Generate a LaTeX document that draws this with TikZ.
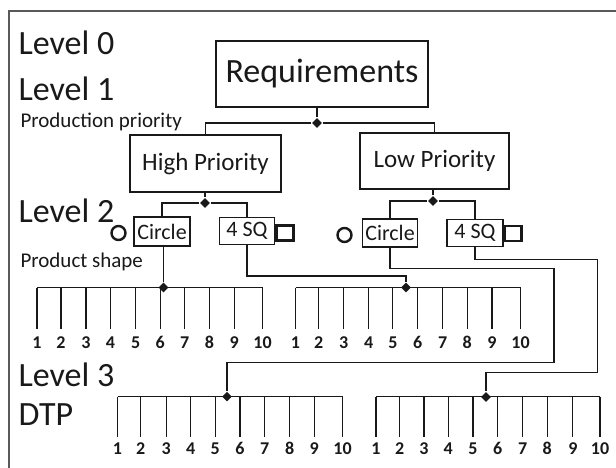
\documentclass[tikz,border=0pt]{standalone}
\usepackage{fontspec}
\setmainfont{Carlito}
\usetikzlibrary{shapes.geometric}
\begin{document}
\begin{tikzpicture}[x=1pt,y=-1pt,line width=1.1pt,color=black!90,
  lbl/.style={anchor=base west,inner sep=0pt,font=\fontsize{34}{40}\selectfont},
  small/.style={anchor=base west,inner sep=0pt,font=\fontsize{21}{25}\selectfont},
  box/.style={draw,rectangle,inner sep=0pt,line width=1.2pt},
  jdot/.style={diamond,fill,draw=none,inner sep=0pt,minimum size=10pt},
  num/.style={anchor=base,inner sep=0pt,font=\bfseries\fontsize{18}{21}\selectfont},
  sym/.style={draw,inner sep=0pt,line width=2.4pt}]
\useasboundingbox (0,0) rectangle (616,468);
% frame
\draw[line width=1.4pt,black!65] (9,468) -- (9,11) -- (616,11);
% level labels
\node[lbl] (l0) at (18,55) {Level 0};
\node[lbl] (l1) at (18,101) {Level 1};
\node[small] (pp) at (20,128) {Production priority};
\node[lbl] (l2) at (18,222.5) {Level 2};
\node[small] (ps) at (20,267) {Product shape};
\node[lbl] (l3) at (18,386) {Level 3};
\node[lbl] (dtp) at (18,425) {DTP};
% boxes
\node[box,minimum width=212pt,minimum height=66pt,font=\fontsize{34}{40}\selectfont] (req) at (322,74) {Requirements};
\node[box,minimum width=151pt,minimum height=57pt,font=\fontsize{25}{30}\selectfont] (hp) at (205.5,163.5) {High Priority};
\node[box,minimum width=149pt,minimum height=56pt,font=\fontsize{25}{30}\selectfont] (lp) at (434.5,161) {Low Priority};
\node[box,minimum width=56pt,minimum height=29pt,font=\fontsize{22}{26}\selectfont] (lc) at (162,231.5) {Circle};
\node[box,minimum width=55pt,minimum height=27pt,font=\fontsize{22}{26}\selectfont] (ls) at (247,231) {4 SQ};
\node[box,minimum width=55pt,minimum height=28pt,font=\fontsize{22}{26}\selectfont] (rc) at (390,233) {Circle};
\node[box,minimum width=56pt,minimum height=27pt,font=\fontsize{22}{26}\selectfont] (rs) at (475,233) {4 SQ};
% shape symbols
\node[sym,circle,minimum size=14pt] (o1) at (118.5,233) {};
\node[sym,minimum width=17pt,minimum height=15pt] (q1) at (285,233) {};
\node[sym,circle,minimum size=14pt] (o2) at (344.5,235) {};
\node[sym,minimum width=17pt,minimum height=15pt] (q2) at (513,233.5) {};
% junction dots
\node[jdot] (d0) at (317,123) {};
\node[jdot] (d1) at (205,203) {};
\node[jdot] (d2) at (433,201) {};
\node[jdot] (dA) at (163.5,287.5) {};
\node[jdot] (dB) at (406,287.5) {};
\node[jdot] (dC) at (227,396.7) {};
\node[jdot] (dD) at (486,397) {};
% tree connectors
\draw (d0 |- req.south) -- (d0);
\draw (hp.north) |- (d0) -| (lp.north);
\draw (d1 |- hp.south) -- (d1);
\draw (lc.north) |- (d1) -| (ls.north);
\draw (d2 |- lp.south) -- (d2);
\draw (rc.north) |- (d2) -| (rs.north);
\draw (dA |- lc.south) -- (dA);
\coordinate (k1) at (406,276);
\draw (ls.south) |- (k1) -- (dB);
\coordinate (k2) at (554,268.7);
\coordinate (k3) at (554,362.7);
\draw (rc.south) |- (k2) -- (k3) -| (dC);
\coordinate (k4) at (597.6,259.3);
\coordinate (k5) at (597.6,372.7);
\draw (rs.south) |- (k4) -- (k5) -| (dD);
% combs
\draw (37,287.5) -- (262.5,287.5);
\foreach \x [count=\i] in {37,61,86,110.4,135.6,160.3,184.7,209.4,234.2,262.5} {
  \draw (\x,287.5) -- (\x,329);
  \node[num] (a\i) at (\x,348) {\i};
}
\draw (295.5,287.5) -- (520.6,287.5);
\foreach \x [count=\i] in {295.5,318.7,343.8,368.6,392.9,417.7,442.8,467.2,492,520.6} {
  \draw (\x,287.5) -- (\x,329);
  \node[num] (b\i) at (\x,348) {\i};
}
\draw (117.5,396.7) -- (342.6,396.7);
\foreach \x [count=\i] in {117.5,140.7,166.2,190.6,215.3,240,264.8,289.6,314.3,342.6} {
  \draw (\x,396.7) -- (\x,436.7);
  \node[num] (c\i) at (\x,454) {\i};
}
\draw (376,396.7) -- (600,396.7);
\foreach \x [count=\i] in {376,399.6,424,448.3,473,497.8,522.6,547.3,572.9,600} {
  \draw (\x,396.7) -- (\x,436.7);
  \node[num] (e\i) at (\x,454) {\i};
}
\end{tikzpicture}
\end{document}
